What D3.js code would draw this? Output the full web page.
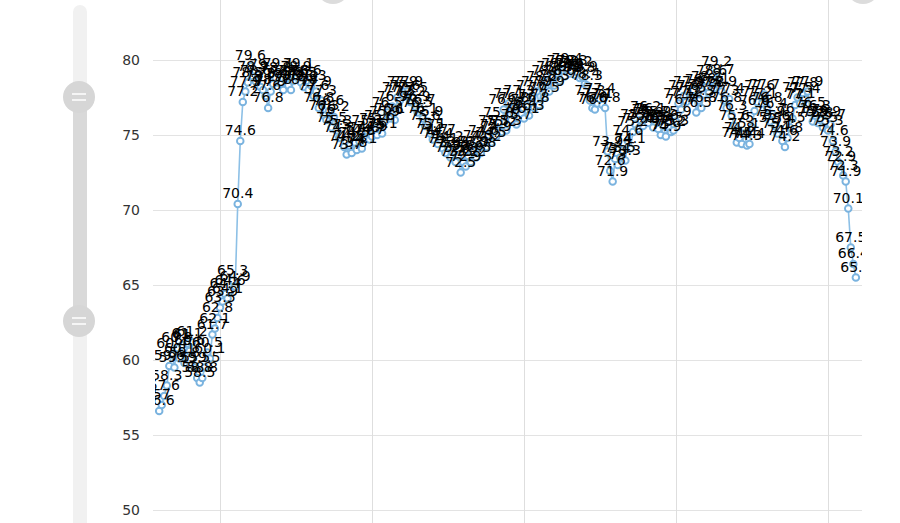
<!DOCTYPE html>
<html>
<head>
<meta charset="utf-8">
<script src="https://cdn.jsdelivr.net/npm/d3@7"></script>
<style>
  html, body { margin: 0; padding: 0; background: #fff; }
  svg { display: block; }
</style>
</head>
<body>
<svg id="vis" width="900" height="523"></svg>
<script>
// daily readings, one per category (the x labels are below the visible frame)
var values = [
  56.6, 57.0, 57.6, 58.3, 59.6, 60.4, 59.5, 60.8, 60.1, 61.0,
  59.8, 61.1, 60.6, 61.2, 59.5, 58.8, 58.5, 58.8, 59.5, 60.5,
  60.1, 61.7, 62.1, 62.8, 63.5, 63.9, 64.4, 64.1, 64.6, 65.3,
  64.9, 70.4, 74.6, 77.2, 77.9, 78.5, 79.6, 78.9, 78.6, 79.0,
  78.2, 78.0, 77.6, 76.8, 77.9, 78.4, 78.8, 79.1, 78.4, 78.0,
  78.6, 78.3, 78.0, 78.6, 78.9, 79.1, 78.5, 78.2, 78.6, 78.0,
  78.3, 77.6, 77.9, 76.8, 77.3, 76.3, 76.0, 76.6, 75.5, 76.2,
  75.3, 74.8, 75.0, 74.2, 73.7, 74.3, 73.8, 74.5, 74.0, 74.6,
  74.1, 74.8, 75.3, 74.7, 74.9, 75.4, 75.0, 75.6, 75.1, 75.9,
  76.5, 76.1, 76.9, 76.0, 77.5, 77.3, 77.9, 77.6, 77.9, 77.2,
  77.5, 76.9, 76.5, 76.7, 76.1, 75.6, 75.9, 75.1, 74.7, 75.0,
  74.4, 74.7, 74.1, 73.8, 74.2, 73.5, 73.9, 73.2, 73.6, 72.5,
  73.2, 72.9, 73.6, 73.2, 73.9, 73.5, 74.3, 73.8, 74.6, 74.2,
  75.0, 74.5, 75.3, 74.9, 75.8, 75.2, 76.7, 75.3, 77.1, 76.0,
  76.8, 75.7, 77.3, 76.4, 76.1, 77.0, 76.3, 77.6, 76.8, 77.9,
  77.0, 78.2, 77.5, 78.6, 77.9, 78.9, 78.3, 79.1, 78.6, 79.3,
  78.9, 79.4, 79.1, 79.3, 79.0, 79.2, 78.8, 78.9, 78.4, 78.3,
  77.3, 76.8, 76.7, 77.1, 77.4, 77.0, 76.8, 73.9, 72.6, 71.9,
  73.4, 73.0, 73.5, 74.0, 73.3, 74.6, 74.1, 75.2, 75.7, 75.4,
  76.0, 75.6, 76.2, 75.8, 76.1, 75.5, 75.9, 75.4, 75.0, 75.6,
  74.9, 75.5, 75.2, 75.3, 75.9, 77.1, 76.7, 77.6, 77.2, 77.9,
  77.5, 78.0, 76.5, 77.3, 76.8, 77.7, 78.2, 77.8, 78.6, 78.1,
  79.2, 78.7, 77.9, 77.3, 76.8, 77.4, 76.3, 75.6, 74.5, 74.8,
  74.4, 75.1, 74.3, 74.4, 75.5, 76.6, 77.2, 77.6, 77.1, 77.7,
  76.8, 75.9, 76.4, 75.6, 75.1, 75.4, 74.6, 74.2, 74.8, 75.5,
  76.1, 77.0, 77.5, 77.1, 77.8, 77.4, 77.9, 76.5, 75.9, 76.3,
  75.8, 76.0, 75.5, 75.9, 75.3, 75.7, 74.6, 73.9, 73.2, 72.9,
  72.3, 71.9, 70.1, 67.5, 66.4, 65.5
];
var categories = values.map(function(d, i){ return i; });
var yTicks = [50, 55, 60, 65, 70, 75, 80];
var gridCats = [24, 84, 144, 204, 264];   // categories that carry a vertical split line

var plotLeft = 153, plotRight = 862;
var font = "'DejaVu Sans', sans-serif";

var svg = d3.select("#vis");

var x = d3.scaleLinear().domain([24, 264]).range([220, 828]);
var y = d3.scaleLinear().domain([50, 80]).range([510, 60]);

svg.append("defs").append("clipPath").attr("id", "plotclip")
  .append("rect")
  .attr("x", 155).attr("y", 0)
  .attr("width", plotRight - 155).attr("height", 523);

// horizontal split lines + y labels
var yAxis = svg.append("g")
  .attr("transform", "translate(" + plotLeft + ",0)")
  .call(d3.axisLeft(y).tickValues(yTicks).tickSize(-(plotRight - plotLeft)).tickPadding(13));
yAxis.select(".domain").remove();
yAxis.selectAll("line").attr("stroke", "#e3e3e3");
yAxis.selectAll("text")
  .attr("fill", "#333")
  .style("font-family", font)
  .style("font-size", "14px");

// vertical split lines
var xAxis = svg.append("g")
  .call(d3.axisTop(x).tickValues(gridCats).tickSize(-523).tickFormat(""));
xAxis.select(".domain").remove();
xAxis.selectAll("line").attr("stroke", "#dedede");

// slider on the left
var slider = svg.append("g");
slider.append("rect")
  .attr("x", 73).attr("y", 5).attr("width", 14).attr("height", 540)
  .attr("rx", 7).attr("fill", "#f1f1f1");
slider.append("rect")
  .attr("x", 73).attr("y", 97).attr("width", 14).attr("height", 224)
  .attr("fill", "#d9d9d9");
[97, 321].forEach(function(cy){
  slider.append("circle").attr("cx", 79).attr("cy", cy).attr("r", 16).attr("fill", "#d6d6d6");
  [-3, 3].forEach(function(dy){
    slider.append("line")
      .attr("x1", 72).attr("x2", 86)
      .attr("y1", cy + dy).attr("y2", cy + dy)
      .attr("stroke", "#fff").attr("stroke-width", 1.5);
  });
});

// handles of the top slider, mostly outside the frame
[333, 863].forEach(function(cx){
  svg.append("circle").attr("cx", cx).attr("cy", -13).attr("r", 17).attr("fill", "#dcdcdc");
});

var plot = svg.append("g").attr("clip-path", "url(#plotclip)");

var line = d3.line()
  .x(function(d, i){ return x(categories[i]); })
  .y(function(d){ return y(d); });

plot.append("path")
  .datum(values)
  .attr("d", line)
  .attr("fill", "none")
  .attr("stroke", "#8dc0e6")
  .attr("stroke-width", 1.6);

plot.selectAll("circle.pt")
  .data(values)
  .enter().append("circle")
  .attr("class", "pt")
  .attr("cx", function(d, i){ return x(categories[i]); })
  .attr("cy", function(d){ return y(d); })
  .attr("r", 3.3)
  .attr("fill", "#fff")
  .attr("stroke", "#7ab3df")
  .attr("stroke-width", 1.9);

plot.selectAll("text.lbl")
  .data(values)
  .enter().append("text")
  .attr("class", "lbl")
  .attr("x", function(d, i){ return x(categories[i]); })
  .attr("y", function(d){ return y(d) - 6; })
  .attr("text-anchor", "middle")
  .attr("fill", "#000")
  .style("font-family", font)
  .style("font-size", "14px")
  .text(function(d){ return String(d); });
</script>
</body>
</html>
